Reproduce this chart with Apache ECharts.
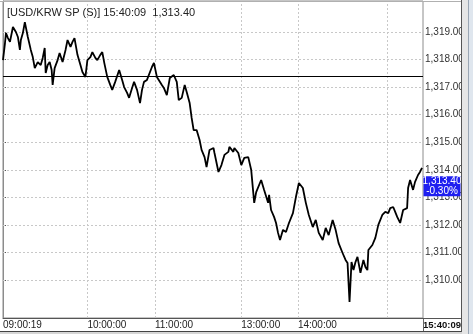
<!DOCTYPE html>
<html><head><meta charset="utf-8">
<script src="https://cdn.jsdelivr.net/npm/echarts@6/dist/echarts.min.js"></script>
<style>html,body{margin:0;padding:0;background:#fff}#c{width:473px;height:334px}</style>
</head><body><div id="c"></div>
<script>
// tick sequence index (position in tick stream) and price
var tickIdx = [0,2,3,5,7,10,13,15,17,18,20,22,25,28,30,32,35,38,40,42,43,45,47,49,50,52,55,57,60,63,65,68,70,72,75,78,80,83,85,88,90,93,95,98,100,102,105,108,110,113,117,120,122,125,127,130,132,135,138,140,142,145,147,150,152,155,157,160,162,165,168,172,175,177,180,183,185,188,190,192,195,198,200,203,205,208,212,213,217,220,223,227,228,232,233,237,240,243,247,250,252,253,255,260,263,267,268,270,273,275,277,279,282,285,288,292,295,298,302,305,308,312,315,318,322,325,328,332,335,338,342,345,347,349,351,353,355,357,360,363,365,367,368,372,375,378,382,385,388,390,393,395,397,400,403,407,408,410,413,415,418,420,422];
var price = [1317.98,1318.60,1318.96,1318.78,1318.64,1319.18,1319.00,1318.82,1318.35,1318.71,1318.96,1319.36,1318.82,1318.35,1318.09,1317.69,1317.91,1317.80,1318.06,1318.42,1317.51,1317.80,1317.91,1317.62,1317.08,1317.69,1317.98,1318.24,1317.91,1318.35,1318.71,1318.46,1318.64,1318.78,1318.17,1317.80,1317.55,1317.37,1317.98,1318.09,1318.27,1318.06,1317.98,1318.17,1318.27,1317.88,1317.37,1317.08,1316.90,1317.19,1317.62,1317.26,1317.00,1316.79,1316.61,1316.97,1317.19,1316.90,1316.42,1316.90,1317.19,1317.26,1317.33,1317.73,1317.88,1317.37,1317.33,1317.08,1316.97,1316.71,1317.33,1317.44,1317.19,1316.53,1316.61,1317.08,1316.82,1316.42,1315.88,1315.44,1315.44,1315.08,1314.72,1314.46,1314.10,1314.72,1314.79,1314.61,1313.92,1314.17,1314.54,1314.65,1314.83,1314.65,1314.79,1314.61,1314.17,1314.43,1314.46,1313.99,1313.19,1312.80,1313.19,1313.63,1313.27,1312.80,1313.09,1312.54,1312.29,1312.07,1311.71,1311.45,1311.82,1311.74,1312.07,1312.43,1313.01,1313.52,1313.34,1312.80,1312.36,1311.92,1312.18,1311.71,1311.45,1311.89,1311.63,1312.18,1311.82,1311.34,1310.98,1310.73,1310.62,1309.20,1310.65,1310.36,1310.65,1310.84,1310.26,1310.73,1310.47,1310.36,1311.09,1311.27,1311.53,1312.00,1312.36,1312.47,1312.43,1312.61,1312.65,1312.47,1312.29,1312.07,1312.54,1312.61,1313.34,1313.63,1313.27,1313.56,1313.81,1313.92,1314.07];
var priceTicks = [1310,1311,1312,1313,1314,1315,1316,1317,1318,1319];
var timeLabelIdx = [0,85,153,240,297,423];
var timeLabels = ['09:00:19','10:00:00','11:00:00','13:00:00','14:00:00','15:40:09'];
var hourGridIdx = [85,153,240,297,387];
var prevClose = 1317.40;
var lastPrice = 1313.40;
var titleText = '[USD/KRW SP (S)] 15:40:09  1,313.40';

function fmt2(v){ return v.toLocaleString('en-US',{minimumFractionDigits:2,maximumFractionDigits:2}); }
var pct = ((lastPrice/prevClose - 1)*100).toFixed(2) + '%';

var data = tickIdx.map(function(x,i){ return [x, price[i]]; });
var FONT = 'Liberation Sans';
var GRID = {color:'#c8c8c8', type:[2,2], width:1};

var mlData = hourGridIdx.map(function(x){ return {xAxis:x, lineStyle:GRID, label:{show:false}}; })
  .concat(priceTicks.map(function(v){ return {yAxis:v, lineStyle:GRID, label:{show:false}}; }));
mlData.push({yAxis:prevClose, lineStyle:{color:'#000', type:'solid', width:1}, label:{show:false}});

var chart = echarts.init(document.getElementById('c'), null, {renderer:'canvas'});
chart.setOption({
  animation:false,
  backgroundColor:'#fff',
  title:{text:titleText, left:2, top:2, textStyle:{fontFamily:FONT, fontSize:11, fontWeight:'normal', color:'#222'}},
  grid:{left:0, right:50, top:1, bottom:16, show:true, borderColor:'#8c8c8c', borderWidth:1, backgroundColor:'transparent'},
  xAxis:{type:'value', min:0, max:423,
    axisLine:{show:true, lineStyle:{color:'#555'}},
    axisTick:{show:false}, splitLine:{show:false},
    axisLabel:{customValues:timeLabelIdx, margin:2, align:'left', fontFamily:FONT, fontSize:10, color:'#222',
      formatter:function(v){ var k=timeLabelIdx.indexOf(v); if(k<0) return ''; return k===timeLabels.length-1 ? '{b|'+timeLabels[k]+'}' : timeLabels[k]; },
      rich:{b:{fontWeight:'bold', fontFamily:FONT, fontSize:9.5, color:'#111'}}}
  },
  yAxis:{type:'value', position:'right', min:1308.621, max:1320.125,
    axisLine:{show:true, lineStyle:{color:'#8c8c8c'}},
    axisTick:{show:true, length:3, customValues:priceTicks, lineStyle:{color:'#555'}},
    axisLabel:{margin:2, align:'left', customValues:priceTicks, fontFamily:FONT, fontSize:10, color:'#333',
      formatter:function(v){ return fmt2(v); }},
    splitLine:{show:false}
  },
  series:[
    {type:'line', data:data, showSymbol:false, symbol:'none', lineStyle:{color:'#000', width:1.8}, z:5,
      markLine:{silent:true, symbol:'none', animation:false, data:mlData}},
    {type:'scatter', data:[[423, lastPrice]], symbol:'rect', symbolSize:[37,20], symbolOffset:[19,0],
      itemStyle:{color:'#1f1ff0', opacity:1}, clip:false, silent:true, z:20,
      label:{show:true, position:'inside', formatter: fmt2(lastPrice) + '\n' + pct,
        color:'#fff', fontFamily:FONT, fontSize:10, lineHeight:10}}
  ],
  graphic:[
    {type:'line', z:100, shape:{x1:423.5,y1:318,x2:423.5,y2:332}, style:{stroke:'#666', lineWidth:1}},
    {type:'line', z:100, shape:{x1:0,y1:331.5,x2:462,y2:331.5}, style:{stroke:'#444', lineWidth:1}},
    {type:'line', z:100, shape:{x1:423,y1:318.5,x2:461,y2:318.5}, style:{stroke:'#555', lineWidth:1}},
    {type:'line', z:100, shape:{x1:0,y1:1.5,x2:461,y2:1.5}, style:{stroke:'#b0b0b0', lineWidth:1}},
    {type:'rect', z:100, shape:{x:461,y:0,width:12,height:334}, style:{fill:'#e6e6e6'}},
    {type:'line', z:101, shape:{x1:461.5,y1:0,x2:461.5,y2:332}, style:{stroke:'#555', lineWidth:1}},
    {type:'line', z:101, shape:{x1:468.5,y1:0,x2:468.5,y2:334}, style:{stroke:'#9aa6b4', lineWidth:1}},
    {type:'rect', z:101, shape:{x:469,y:0,width:4,height:334}, style:{fill:'#dfe6ee'}},
    {type:'rect', z:100, shape:{x:0,y:332,width:462,height:2}, style:{fill:'#d6d6d6'}}
  ]
});
</script></body></html>
